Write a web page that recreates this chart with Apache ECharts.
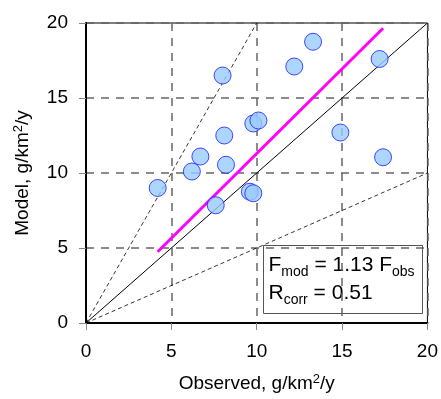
<!DOCTYPE html>
<html>
<head>
<meta charset="utf-8">
<script src="https://cdn.jsdelivr.net/npm/echarts@6/dist/echarts.min.js"></script>
<style>
  html, body { margin: 0; padding: 0; background: #fff; }
  #chart { width: 441px; height: 399px; }
</style>
</head>
<body>
<div id="chart"></div>
<script>
// observed vs model deposition
const observed = [4.2, 6.2, 6.7, 8.0, 8.1, 8.2, 9.8, 10.1, 12.2, 13.3, 17.2, 14.9, 17.4, 9.6, 9.8, 7.6];
const modelled = [9.0, 10.1, 11.1, 16.5, 12.5, 10.55, 13.3, 13.5, 17.1, 18.75, 17.6, 12.7, 11.05, 8.75, 8.65, 7.85];

// reference lines (1:1, 2:1, 1:2) and fitted line end points
const oneToOne = [[0, 0], [20, 20]];
const twoToOne = [[0, 0], [10, 20]];
const oneToTwo = [[0, 0], [20, 10]];
const fitLine = [[4.2, 4.75], [17.4, 19.65]];

const ticks = [0, 5, 10, 15, 20];
const fontFamily = '"Liberation Sans", Arial, sans-serif';

const chart = echarts.init(document.getElementById('chart'));

const gridLine = {
    show: true,
    lineStyle: { color: '#666', width: 1.5, type: [8, 7] }
};

const axisCommon = {
    type: 'value',
    min: ticks[0],
    max: ticks[ticks.length - 1],
    interval: 5,
    nameLocation: 'middle',
    axisLine: { show: true, onZero: false, lineStyle: { color: '#000', width: 2 } },
    axisTick: { show: true, inside: false, length: 7, lineStyle: { color: '#888', width: 1 } },
    axisLabel: { color: '#000', fontSize: 19, fontFamily },
    splitLine: gridLine
};

const nameRich = {
    n: { fontSize: 19, fontFamily, color: '#000', lineHeight: 22, verticalAlign: 'middle' },
    sup: { fontSize: 13, fontFamily, color: '#000', lineHeight: 22, verticalAlign: 'top' }
};

const option = {
    backgroundColor: '#fff',
    animation: false,
    grid: {
        left: 86,
        right: 12,
        top: 23,
        bottom: 76,
        show: true,
        borderColor: '#000',
        borderWidth: 1
    },
    xAxis: Object.assign({}, axisCommon, {
        name: '{n|Observed, g/km}{sup|2}{n|/y}',
        nameGap: 50,
        nameTextStyle: { rich: nameRich },
        axisLabel: Object.assign({}, axisCommon.axisLabel, { margin: 19 })
    }),
    yAxis: Object.assign({}, axisCommon, {
        name: '{n|Model, g/km}{sup|2}{n|/y}',
        nameGap: 52,
        nameTextStyle: { rich: nameRich },
        axisLabel: Object.assign({}, axisCommon.axisLabel, { margin: 18 })
    }),
    series: [
        {
            type: 'line',
            data: twoToOne,
            symbol: 'none',
            silent: true,
            lineStyle: { color: '#000', width: 0.8, type: [4, 3] },
            z: 2
        },
        {
            type: 'line',
            data: oneToTwo,
            symbol: 'none',
            silent: true,
            lineStyle: { color: '#000', width: 0.8, type: [4, 3] },
            z: 2
        },
        {
            type: 'line',
            data: oneToOne,
            symbol: 'none',
            silent: true,
            lineStyle: { color: '#000', width: 1 },
            z: 2
        },
        {
            type: 'line',
            data: fitLine,
            symbol: 'none',
            silent: true,
            lineStyle: { color: '#ff00ff', width: 3 },
            z: 3
        },
        {
            type: 'scatter',
            data: observed.map((x, i) => [x, modelled[i]]),
            symbol: 'circle',
            symbolSize: 17,
            itemStyle: { color: '#99ccff', borderColor: '#1a1aff', borderWidth: 1 },
            z: 4
        }
    ],
    graphic: [
        {
            type: 'group',
            left: 263,
            top: 245,
            z: 10,
            children: [
                {
                    type: 'rect',
                    shape: { x: 0, y: 0, width: 159, height: 68 },
                    style: { fill: '#fff', stroke: '#555', lineWidth: 1 }
                },
                {
                    type: 'text',
                    x: 5,
                    y: 6,
                    style: {
                        text: '{m|F}{s|mod}{m| = 1.13 F}{s|obs}\n{m|R}{s|corr}{m| = 0.51}',
                        rich: {
                            m: { fontSize: 21, fontFamily, fill: '#000', lineHeight: 28, verticalAlign: 'middle' },
                            s: { fontSize: 14, fontFamily, fill: '#000', lineHeight: 28, verticalAlign: 'bottom' }
                        }
                    }
                }
            ]
        }
    ]
};

chart.setOption(option);
</script>
</body>
</html>
